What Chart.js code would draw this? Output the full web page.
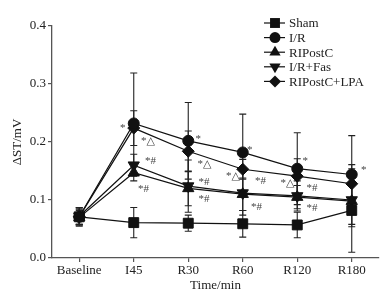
<!DOCTYPE html>
<html><head><meta charset="utf-8">
<script src="https://cdn.jsdelivr.net/npm/chart.js@4/dist/chart.umd.min.js"></script>
<style>html,body{margin:0;padding:0;background:#fff}</style>
</head><body>
<canvas id="c" width="390" height="301"></canvas>
<script>
const categories = ['Baseline','I45','R30','R60','R120','R180'];
const seriesNames = ['Sham','I/R','RIPostC','I/R+Fas','RIPostC+LPA'];
const shamValues    = [0.071, 0.061, 0.060, 0.059, 0.057, 0.082];
const shamSD        = [0.016, 0.026, 0.014, 0.023, 0.022, 0.072];
const irValues      = [0.071, 0.232, 0.202, 0.182, 0.154, 0.144];
const irSD          = [0.014, 0.087, 0.066, 0.066, 0.062, 0.067];
const ripostcValues = [0.070, 0.147, 0.120, 0.110, 0.105, 0.098];
const ripostcSD     = [0.012, 0.014, 0.030, 0.028, 0.020, 0.040];
const fasValues     = [0.072, 0.160, 0.124, 0.112, 0.107, 0.100];
const fasSD         = [0.015, 0.019, 0.045, 0.038, 0.026, 0.046];
const lpaValues     = [0.071, 0.224, 0.184, 0.153, 0.141, 0.128];
const lpaSD         = [0.013, 0.030, 0.035, 0.017, 0.030, 0.033];
const yTicks = [0.0, 0.1, 0.2, 0.3, 0.4];
// significance marks: [category index, value level, text]
const marks = [
  [1, 0.228, '*'], [1, 0.205, '*△'], [1, 0.170, '*#'], [1, 0.123, '*#'],
  [2, 0.209, '*'], [2, 0.165, '*△'], [2, 0.135, '*#'], [2, 0.106, '*#'],
  [3, 0.189, '*'], [3, 0.145, '*△'], [3, 0.136, '*#'], [3, 0.091, '*#'],
  [4, 0.170, '*'], [4, 0.133, '*△'], [4, 0.124, '*#'], [4, 0.090, '*#'],
  [5, 0.155, '*']
];
const markDx = [
  -11, 10, 14, 7,
  10, 12, 13, 13,
  7, -14, 15, 11,
  8, -14, 12, 12,
  12
];

const SERIF = '"Liberation Serif", "DejaVu Serif", serif';
const styles = [
  {pointStyle:'rect', radius:7, rotation:0},
  {pointStyle:'circle', radius:5.5, rotation:0},
  {pointStyle:'triangle', radius:6.5, rotation:0},
  {pointStyle:'triangle', radius:6.5, rotation:180},
  {pointStyle:'rectRot', radius:6, rotation:0}
];
const allValues = [shamValues, irValues, ripostcValues, fasValues, lpaValues];
const allSD = [shamSD, irSD, ripostcSD, fasSD, lpaSD];

const datasets = seriesNames.map((n, i) => ({
  label: n,
  data: allValues[i],
  borderColor: '#111',
  backgroundColor: '#111',
  borderWidth: 1.2,
  pointStyle: styles[i].pointStyle,
  pointRadius: styles[i].radius,
  pointRotation: styles[i].rotation,
  pointBackgroundColor: '#111',
  pointBorderColor: '#111',
  pointBorderWidth: 1,
  tension: 0,
  fill: false,
  sd: allSD[i]
}));

const errorBars = {
  id: 'errorBars',
  beforeDatasetsDraw(chart) {
    const ctx = chart.ctx, xs = chart.scales.x, ys = chart.scales.y;
    ctx.save();
    ctx.strokeStyle = '#222';
    ctx.lineWidth = 1.1;
    chart.data.datasets.forEach(ds => {
      ds.data.forEach((v, i) => {
        const x = xs.getPixelForValue(i);
        const yt = ys.getPixelForValue(v + ds.sd[i]);
        const yb = ys.getPixelForValue(Math.max(0, v - ds.sd[i]));
        ctx.beginPath();
        ctx.moveTo(x, yt); ctx.lineTo(x, yb);
        ctx.moveTo(x - 3.5, yt); ctx.lineTo(x + 3.5, yt);
        ctx.moveTo(x - 3.5, yb); ctx.lineTo(x + 3.5, yb);
        ctx.stroke();
      });
    });
    ctx.restore();
  }
};

const marksPlugin = {
  id: 'marks',
  afterDatasetsDraw(chart) {
    const ctx = chart.ctx, xs = chart.scales.x, ys = chart.scales.y;
    ctx.save();
    ctx.fillStyle = '#444';
    ctx.font = '11px ' + SERIF;
    ctx.textAlign = 'left';
    ctx.textBaseline = 'alphabetic';
    marks.forEach((m, k) => {
      const x = xs.getPixelForValue(m[0]) + markDx[k] - 2.7;
      const y = ys.getPixelForValue(m[1]) + 5;
      ctx.fillText(m[2], x, y);
    });
    ctx.restore();
  }
};

function drawMarker(ctx, style, x, y) {
  const r = style.radius;
  ctx.beginPath();
  if (style.pointStyle === 'circle') {
    ctx.arc(x, y, r, 0, Math.PI * 2);
  } else if (style.pointStyle === 'rect') {
    const s = Math.SQRT1_2 * r;
    ctx.rect(x - s, y - s, 2 * s, 2 * s);
  } else if (style.pointStyle === 'rectRot') {
    ctx.moveTo(x, y - r); ctx.lineTo(x + r, y); ctx.lineTo(x, y + r); ctx.lineTo(x - r, y);
  } else if (style.pointStyle === 'triangle') {
    const rot = style.rotation * Math.PI / 180;
    for (let k = 0; k < 3; k++) {
      const a = rot + k * 2 * Math.PI / 3;
      const px = x + Math.sin(a) * r, py = y - Math.cos(a) * r;
      if (k === 0) ctx.moveTo(px, py); else ctx.lineTo(px, py);
    }
  }
  ctx.closePath();
  ctx.fill();
}

const legendPlugin = {
  id: 'customLegend',
  afterDraw(chart) {
    const ctx = chart.ctx;
    ctx.save();
    ctx.font = '13px ' + SERIF;
    ctx.textBaseline = 'middle';
    ctx.textAlign = 'left';
    seriesNames.forEach((n, i) => {
      const y = 23 + i * 14.6;
      ctx.strokeStyle = '#111';
      ctx.fillStyle = '#111';
      ctx.lineWidth = 1.2;
      ctx.beginPath(); ctx.moveTo(264, y); ctx.lineTo(285, y); ctx.stroke();
      drawMarker(ctx, styles[i], 275, y);
      ctx.fillStyle = '#222';
      ctx.fillText(n, 289, y + 1);
    });
    ctx.restore();
  }
};

new Chart(document.getElementById('c'), {
  type: 'line',
  data: { labels: categories, datasets },
  options: {
    responsive: false,
    animation: false,
    devicePixelRatio: 1,
    layout: { padding: { top: 26, right: 11, left: 0, bottom: 0 } },
    plugins: { legend: { display: false }, tooltip: { enabled: false } },
    scales: {
      x: {
        type: 'category',
        offset: true,
        grid: { display: true, drawOnChartArea: false, drawTicks: true, tickLength: 4, color: '#555', lineWidth: 1.2, offset: false },
        border: { display: true, color: '#555', width: 1.3 },
        ticks: { color: '#222', font: { family: SERIF, size: 13 }, padding: 1, maxRotation: 0, autoSkip: false },
        title: { display: true, text: 'Time/min', color: '#222', font: { family: SERIF, size: 13 }, padding: { top: 0, bottom: 8 } },
        afterFit(s) { s.height = 43; }
      },
      y: {
        min: 0, max: 0.4,
        afterBuildTicks(s) { s.ticks = yTicks.map(v => ({ value: v })); },
        grid: { display: true, drawOnChartArea: false, drawTicks: true, tickLength: 4, color: '#555', lineWidth: 1.2 },
        border: { display: true, color: '#555', width: 1.3 },
        ticks: { color: '#222', font: { family: SERIF, size: 13 }, padding: 2, callback: v => Number(v).toFixed(1) },
        title: { display: true, text: 'ΔST/mV', color: '#222', font: { family: SERIF, size: 13 }, padding: { top: 10, bottom: 0 } },
        afterFit(s) { s.width = 52; }
      }
    }
  },
  plugins: [errorBars, marksPlugin, legendPlugin]
});
</script>
</body></html>
